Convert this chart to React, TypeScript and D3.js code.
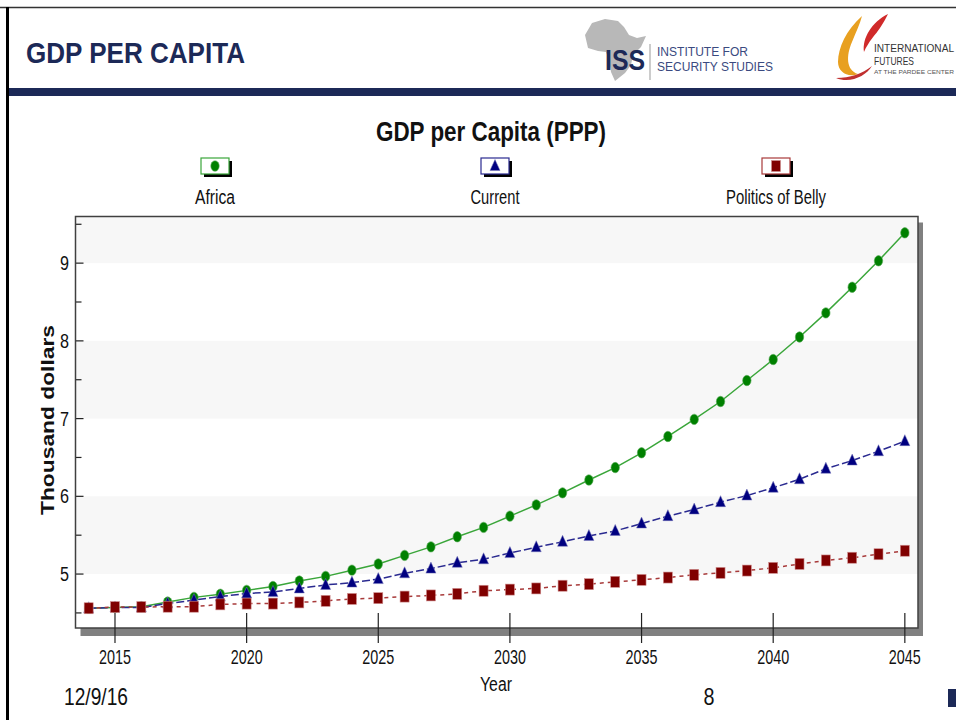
import React from 'react'
import * as d3 from 'd3'

const W = 956
const H = 720

// chart data
const years = [2014, 2015, 2016, 2017, 2018, 2019, 2020, 2021, 2022, 2023, 2024, 2025, 2026, 2027, 2028, 2029,
  2030, 2031, 2032, 2033, 2034, 2035, 2036, 2037, 2038, 2039, 2040, 2041, 2042, 2043, 2044, 2045]
const africa = [4.56, 4.57, 4.58, 4.64, 4.70, 4.74, 4.79, 4.84, 4.91, 4.97, 5.05, 5.13, 5.24, 5.35, 5.48, 5.60,
  5.745, 5.89, 6.045, 6.21, 6.37, 6.56, 6.77, 6.99, 7.22, 7.49, 7.76, 8.05, 8.36, 8.69, 9.03, 9.39]
const current = [4.56, 4.57, 4.57, 4.62, 4.665, 4.71, 4.75, 4.77, 4.815, 4.86, 4.89, 4.935, 5.01, 5.07, 5.145, 5.19,
  5.27, 5.345, 5.415, 5.49, 5.555, 5.65, 5.745, 5.83, 5.925, 6.01, 6.11, 6.22, 6.355, 6.46, 6.58, 6.71]
const belly = [4.56, 4.575, 4.575, 4.58, 4.58, 4.61, 4.62, 4.62, 4.635, 4.655, 4.68, 4.69, 4.71, 4.725, 4.745, 4.785,
  4.80, 4.815, 4.85, 4.87, 4.90, 4.925, 4.955, 4.99, 5.015, 5.045, 5.08, 5.13, 5.175, 5.21, 5.255, 5.30]
const seriesNames = ['Africa', 'Current', 'Politics of Belly']
const xTicks = [2015, 2020, 2025, 2030, 2035, 2040, 2045]
const yTicks = [5, 6, 7, 8, 9]
const yMinor = [4.5, 5.5, 6.5, 7.5, 8.5, 9.5]
const bands = [[5, 6], [7, 8], [9, 9.6]]

// narrow look: Arial-metric font squeezed with textLength
const narrow = '"Liberation Sans", Arial, sans-serif'
const navy = '#1c2957'

const plot = { left: 75.5, right: 918, top: 216.5, bottom: 628 }

const x = d3.scaleLinear().domain([2013.5, 2045.5]).range([plot.left, plot.right])
const y = d3.scaleLinear().domain([4.306, 9.6]).range([plot.bottom, plot.top])

const lineGen = d3.line<number>()
  .x((_, i) => x(years[i]))
  .y(d => y(d))

const styles = [
  { line: '#3aa63a', mark: '#008000', dash: undefined, shape: 'circle' },
  { line: '#2a2a90', mark: '#000080', dash: '8,3', shape: 'triangle' },
  { line: '#a83a3a', mark: '#800000', dash: '4,4', shape: 'square' },
]

const Marker = ({ shape, color, cx, cy }: { shape: string, color: string, cx: number, cy: number }) => {
  if (shape === 'circle') return <ellipse cx={cx} cy={cy} rx={4.2} ry={5.2} fill={color} stroke="#55aa55" strokeWidth={0.6} />
  if (shape === 'triangle') return <path d={`M${cx},${cy - 6.5}L${cx + 5},${cy + 4.5}L${cx - 5},${cy + 4.5}Z`} fill={color} stroke="#7777bb" strokeWidth={0.5} />
  return <rect x={cx - 4.5} y={cy - 5.5} width={9} height={11} fill={color} stroke="#d09090" strokeWidth={0.6} />
}

const legendX = [215, 495, 776]
const legendW = [40, 49, 100]

export default function App() {
  const data = [africa, current, belly]
  return (
    <svg width={W} height={H} style={{ position: 'absolute', left: 0, top: 0, background: '#fff' }}>
      {/* slide frame */}
      <line x1={0} x2={W} y1={7.5} y2={7.5} stroke="#333" strokeWidth={1.5} />
      <rect x={6} y={7} width={3} height={H - 7} fill="#000" />
      <text x={26} y={63} fontFamily={narrow} fontWeight="bold" fontSize={30} fill={navy} textLength={219} lengthAdjust="spacingAndGlyphs">GDP PER CAPITA</text>
      <rect x={9} y={88} width={W - 9} height={8} fill={navy} />
      <rect x={948} y={689} width={8} height={18} fill={navy} />

      {/* ISS logo */}
      <path d="M585,35 L592,23 L605,19 L618,21 L624,27 L629,35 L637,38 L646,36 L641,47 L633,55 L631,65 L625,73 L615,81 L611,72 L609,60 L606,52 L598,51 L588,48 Z" fill="#b8b8b8" />
      <text x={605} y={70} fontFamily={narrow} fontWeight="bold" fontSize={30} fill={navy} textLength={40} lengthAdjust="spacingAndGlyphs">ISS</text>
      <line x1={650} x2={650} y1={44} y2={80} stroke="#999" strokeWidth={1} />
      <text x={657} y={56} fontFamily={narrow} fontSize={12.5} fill="#3a4a80" textLength={91} lengthAdjust="spacingAndGlyphs">INSTITUTE FOR</text>
      <text x={657} y={70.5} fontFamily={narrow} fontSize={12.5} fill="#3a4a80" textLength={116} lengthAdjust="spacingAndGlyphs">SECURITY STUDIES</text>

      {/* IFs logo */}
      <path d="M862,16 C846,30 838,48 838,62 C838,72 848,78 858,74 C846,70 846,56 852,42 C856,32 860,24 862,16 Z" fill="#e8a020" />
      <path d="M888,14 C872,22 862,38 864,52 C868,42 876,34 880,28 C884,22 886,18 888,14 Z" fill="#d02a2a" />
      <path d="M836,78 C850,84 866,76 872,66 C862,74 850,78 836,78 Z" fill="#c03030" />
      <text x={874} y={52} fontFamily={narrow} fontSize={10.5} fill="#333" textLength={80} lengthAdjust="spacingAndGlyphs">INTERNATIONAL</text>
      <text x={874} y={65} fontFamily={narrow} fontSize={10.5} fill="#333" textLength={40} lengthAdjust="spacingAndGlyphs">FUTURES</text>
      <text x={874} y={74} fontFamily={narrow} fontSize={6} fill="#555" textLength={80} lengthAdjust="spacingAndGlyphs">AT THE PARDEE CENTER</text>

      {/* chart title */}
      <text x={491} y={141} textAnchor="middle" fontFamily={narrow} fontWeight="bold" fontSize={28} fill="#111" textLength={230} lengthAdjust="spacingAndGlyphs">GDP per Capita (PPP)</text>

      {/* legend */}
      {seriesNames.map((name, i) => (
        <g key={name}>
          <rect x={legendX[i] - 11} y={161} width={28} height={16} fill="#000" />
          <rect x={legendX[i] - 14} y={158} width={28} height={16} fill="#fff" stroke={styles[i].line} strokeWidth={1.2} />
          <Marker shape={styles[i].shape} color={styles[i].mark} cx={legendX[i]} cy={166} />
          <text x={legendX[i]} y={204} textAnchor="middle" fontFamily={narrow} fontSize={20} fill="#111" textLength={legendW[i]} lengthAdjust="spacingAndGlyphs">{name}</text>
        </g>
      ))}

      {/* plot shadow and background */}
      <rect x={plot.left + 5} y={plot.top + 6} width={plot.right - plot.left} height={plot.bottom - plot.top + 2} fill="#808080" />
      <rect x={plot.left} y={plot.top} width={plot.right - plot.left} height={plot.bottom - plot.top} fill="#fff" />
      {bands.map(([a, b]) => (
        <rect key={a} x={plot.left} y={y(b)} width={plot.right - plot.left} height={y(a) - y(b)} fill="#f7f7f7" />
      ))}

      {/* y axis ticks */}
      {yTicks.map(t => (
        <g key={t}>
          <line x1={plot.left} x2={plot.left + 8} y1={y(t)} y2={y(t)} stroke="#222" strokeWidth={1.2} />
          <text x={69} y={y(t) + 7} textAnchor="end" fontFamily={narrow} fontSize={20} fill="#111" textLength={9} lengthAdjust="spacingAndGlyphs">{t}</text>
        </g>
      ))}
      {yMinor.map(t => (
        <line key={t} x1={plot.left} x2={plot.left + 6} y1={y(t)} y2={y(t)} stroke="#222" strokeWidth={1.2} />
      ))}
      <text transform={`translate(54,420) rotate(-90)`} textAnchor="middle" fontFamily='"Liberation Sans", Arial, sans-serif' fontWeight="bold" fontSize={19} fill="#111" textLength={190} lengthAdjust="spacingAndGlyphs">Thousand dollars</text>

      {/* series */}
      {data.map((vals, i) => (
        <g key={seriesNames[i]}>
          <path d={lineGen(vals) || ''} fill="none" stroke={styles[i].line} strokeWidth={1.5} strokeDasharray={styles[i].dash} />
          {vals.map((v, j) => (
            <Marker key={j} shape={styles[i].shape} color={styles[i].mark} cx={x(years[j])} cy={y(v)} />
          ))}
        </g>
      ))}

      {/* plot border */}
      <rect x={plot.left} y={plot.top} width={plot.right - plot.left} height={plot.bottom - plot.top} fill="none" stroke="#404040" strokeWidth={1.5} />

      {/* x axis */}
      {xTicks.map(t => (
        <g key={t}>
          <line x1={x(t)} x2={x(t)} y1={613} y2={643} stroke="#222" strokeWidth={1.2} />
          <text x={x(t)} y={664} textAnchor="middle" fontFamily={narrow} fontSize={21} fill="#111" textLength={32} lengthAdjust="spacingAndGlyphs">{t}</text>
        </g>
      ))}
      <text x={496} y={691} textAnchor="middle" fontFamily={narrow} fontSize={20} fill="#111" textLength={32} lengthAdjust="spacingAndGlyphs">Year</text>

      {/* footer */}
      <text x={64} y={705} fontFamily={narrow} fontSize={24} fill="#111" textLength={64} lengthAdjust="spacingAndGlyphs">12/9/16</text>
      <text x={709} y={705} textAnchor="middle" fontFamily={narrow} fontSize={23} fill="#111" textLength={11} lengthAdjust="spacingAndGlyphs">8</text>
    </svg>
  )
}
